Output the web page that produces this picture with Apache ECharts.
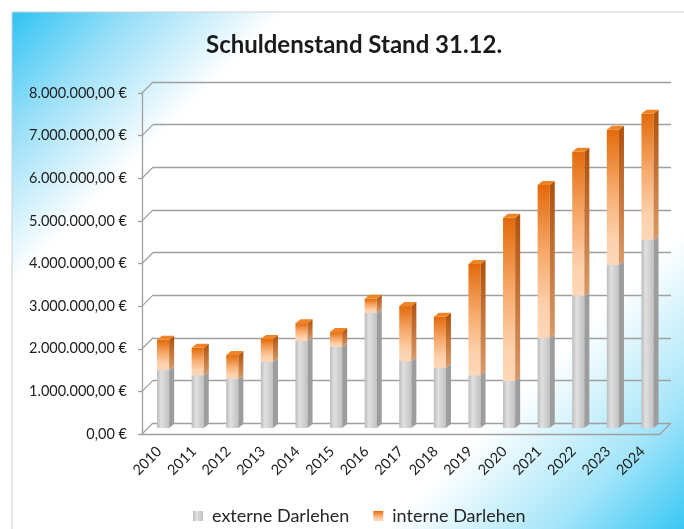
<!DOCTYPE html>
<html>
<head>
<meta charset="utf-8">
<script src="https://cdn.jsdelivr.net/npm/echarts@6/dist/echarts.min.js"></script>
<style>
  html, body { margin: 0; padding: 0; background: #fff; }
  #chart { width: 684px; height: 529px; }
</style>
</head>
<body>
<div id="chart"></div>
<script>
// Schuldenstand zum 31.12., Werte in Euro
const years = ['2010', '2011', '2012', '2013', '2014', '2015', '2016', '2017', '2018', '2019', '2020', '2021', '2022', '2023', '2024']
const externe = [1360000, 1240000, 1150000, 1550000, 2040000, 1900000, 2700000, 1570000, 1410000, 1240000, 1100000, 2110000, 3100000, 3830000, 4410000]
const interne = [710000, 640000, 560000, 540000, 420000, 350000, 330000, 1290000, 1200000, 2610000, 3830000, 3590000, 3380000, 3170000, 2960000]
const yTicks = [0, 1000000, 2000000, 3000000, 4000000, 5000000, 6000000, 7000000, 8000000]

const chart = echarts.init(document.getElementById('chart'))
const G = echarts.graphic
const font = 'Lato'

function euro (v) {
  return String(Math.round(v)).replace(/\B(?=(\d{3})+(?!\d))/g, '.') + ',00 €'
}

const greyFront = new G.LinearGradient(0, 0, 1, 0, [
  { offset: 0, color: '#bcbcbc' },
  { offset: 0.35, color: '#e0e0e0' },
  { offset: 1, color: '#c2c2c2' }
])
const orangeFront = new G.LinearGradient(0, 0, 0, 1, [
  { offset: 0, color: '#e36a0a' },
  { offset: 0.45, color: '#f7aa6c' },
  { offset: 0.8, color: '#fcd1ad' },
  { offset: 1, color: '#fdd7b7' }
])
const styles = {
  grey: { front: greyFront, side: '#9d9d9d', top: '#d2d2d2' },
  orange: {
    front: orangeFront,
    side: new G.LinearGradient(0, 0, 0, 1, [
      { offset: 0, color: '#b0500a' },
      { offset: 1, color: '#d99a68' }
    ]),
    top: '#ee8426'
  }
}

// Saeule mit Vorderseite, Seitenflaeche und Deckel (pseudo-3D)
function barItem (kind) {
  const st = styles[kind]
  return function (params, api) {
    const i = api.value(0)
    const lo = api.coord([i, api.value(1)])
    const hi = api.coord([i, api.value(2)])
    const cw = api.size([1, 0])[0]
    const w = cw * 0.35
    const dx = cw * 0.145
    const dy = 4
    const x0 = lo[0] - cw * 0.21
    const x1 = x0 + w
    const yB = lo[1]
    const yT = hi[1]
    return {
      type: 'group',
      children: [
        { type: 'rect', shape: { x: x0, y: yT, width: w, height: yB - yT }, style: { fill: st.front } },
        { type: 'polygon', shape: { points: [[x1, yB], [x1 + dx, yB - dy], [x1 + dx, yT - dy], [x1, yT]] }, style: { fill: st.side } },
        { type: 'polygon', shape: { points: [[x0, yT], [x1, yT], [x1 + dx, yT - dy], [x0 + dx, yT - dy]] }, style: { fill: st.top } }
      ]
    }
  }
}

// schraege Verbindungen von der Achse zur Rueckwand
function wallItem (params, api) {
  const cs = params.coordSys
  const p = api.coord([0, api.value(1)])
  const ls = { stroke: '#a0a0a0', lineWidth: 1.3 }
  const children = [
    { type: 'line', shape: { x1: cs.x, y1: p[1], x2: cs.x + 11, y2: p[1] - 11 }, style: ls }
  ]
  if (api.value(1) === 0) {
    children.push({ type: 'line', shape: { x1: cs.x + cs.width, y1: p[1], x2: cs.x + cs.width + 11, y2: p[1] - 11 }, style: ls })
  }
  return { type: 'group', children: children }
}

const lineStyle = { color: '#a0a0a0', width: 1.3 }

const option = {
  animation: false,
  textStyle: { fontFamily: font },
  graphic: [{
    type: 'rect',
    z: -10,
    shape: { x: 12, y: 12, width: 690, height: 530 },
    style: {
      fill: new G.LinearGradient(12, 12, 606, 606, [
        { offset: 0, color: '#2fc3f3' },
        { offset: 0.1, color: '#95def8' },
        { offset: 0.23, color: '#ffffff' },
        { offset: 0.75, color: '#ffffff' },
        { offset: 0.89, color: '#a5e5fa' },
        { offset: 1, color: '#3ac7f4' }
      ], true),
      stroke: '#cfcfcf',
      lineWidth: 1
    }
  }],
  title: {
    text: 'Schuldenstand Stand 31.12.',
    left: 201,
    top: 28,
    textStyle: { fontFamily: font, fontSize: 24, fontWeight: 'bold', color: '#1b1b1b' }
  },
  legend: {
    left: 188,
    top: 502,
    itemWidth: 10,
    itemHeight: 10,
    itemGap: 24,
    icon: 'rect',
    textStyle: { fontFamily: font, fontSize: 18, color: '#262626', padding: [0, 0, 0, 4] },
    data: ['externe Darlehen', 'interne Darlehen']
  },
  grid: [
    { left: 142, right: 24, top: 93, bottom: 95 },
    { left: 147, right: 18, top: 87, bottom: 101 },
    { left: 153, right: 13, top: 82, bottom: 106 }
  ],
  xAxis: [
    {
      type: 'category', gridIndex: 0, data: years,
      axisLine: { lineStyle: lineStyle },
      axisTick: { length: 5, lineStyle: lineStyle },
      axisLabel: { rotate: 45, margin: 15, fontSize: 14.5, color: '#1e1e1e', fontFamily: font }
    },
    { type: 'category', gridIndex: 1, data: years, show: false },
    { type: 'category', gridIndex: 2, data: years, show: false }
  ],
  yAxis: [
    {
      type: 'value', gridIndex: 0, min: 0, max: 8000000, interval: 1000000,
      axisLine: { show: true, lineStyle: lineStyle },
      axisTick: { show: true, length: 4, lineStyle: lineStyle },
      splitLine: { show: false },
      axisLabel: { margin: 15, fontSize: 14.5, color: '#1e1e1e', fontFamily: font, formatter: euro }
    },
    { type: 'value', gridIndex: 1, min: 0, max: 8000000, interval: 1000000, show: false },
    {
      type: 'value', gridIndex: 2, min: 0, max: 8000000, interval: 1000000,
      axisLine: { show: false }, axisTick: { show: false }, axisLabel: { show: false },
      splitLine: { show: true, lineStyle: lineStyle }
    }
  ],
  series: [
    {
      type: 'custom',
      name: 'wall',
      xAxisIndex: 0,
      yAxisIndex: 0,
      silent: true,
      renderItem: wallItem,
      encode: { x: 0, y: 1 },
      data: yTicks.map(v => [0, v])
    },
    {
      type: 'custom',
      name: 'externe Darlehen',
      xAxisIndex: 1,
      yAxisIndex: 1,
      itemStyle: { color: greyFront },
      renderItem: barItem('grey'),
      encode: { x: 0, y: [1, 2] },
      data: years.map((y, i) => [i, 0, externe[i]])
    },
    {
      type: 'custom',
      name: 'interne Darlehen',
      xAxisIndex: 1,
      yAxisIndex: 1,
      itemStyle: { color: orangeFront },
      renderItem: barItem('orange'),
      encode: { x: 0, y: [1, 2] },
      data: years.map((y, i) => [i, externe[i], externe[i] + interne[i]])
    }
  ]
}

chart.setOption(option)
window.addEventListener('resize', function () {
  chart.resize()
})
</script>
</body>
</html>
